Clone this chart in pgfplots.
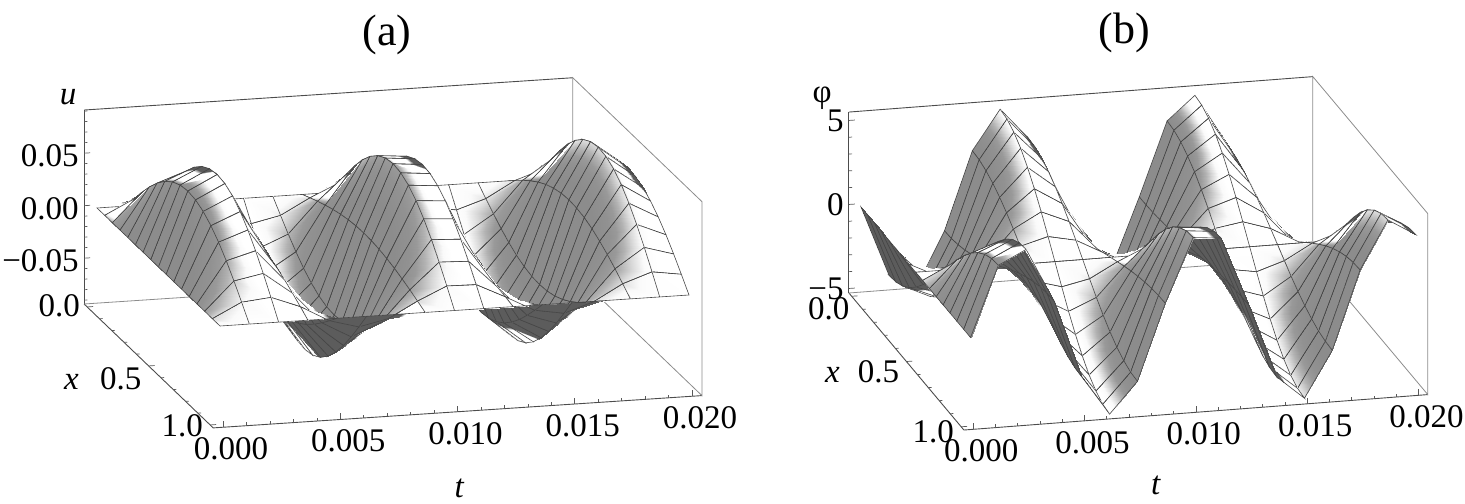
\documentclass[border=0pt]{standalone}
\usepackage{fontspec}
\setmainfont{Liberation Serif}
\usepackage{pgfplots}
\pgfplotsset{compat=1.18}
\newcommand{\tf}{\fontsize{16.5}{18}\selectfont}
\newcommand{\rb}[2]{\raisebox{#1}[10pt][0pt]{#2}}
\pgfplotsset{
  colormap={sheet}{gray=(.36) gray=(.36) gray=(.36) gray=(.36) gray=(.36) gray=(.36) gray=(.6) gray=(.8) gray=(1) gray=(1) gray=(1) gray=(1) gray=(1) gray=(1) gray=(1) gray=(1) gray=(1) gray=(1) gray=(1) gray=(1) gray=(1) gray=(.98) gray=(.85) gray=(.7) gray=(.6) gray=(.57) gray=(.56) gray=(.55) gray=(.55) gray=(.55) gray=(.55)},
  panel/.style={
    clip=false, disabledatascaling, colormap name=sheet, point meta min=-2, point meta max=1,
    xmin=-0.021, xmax=1.021, ymin=-0.025, ymax=1.025,
    xtick={0,0.25,0.5,0.75,1}, xticklabels={0.000,0.005,0.010,0.015,0.020},
    ytick={0,0.5,1},
    tick pos=left,
    major tick length=0pt, minor tick length=0pt,
    axis line style={draw=none},
    tick label style={font=\tf, inner sep=0pt},
    label style={font=\tf},
    title style={font=\fontsize{22}{24}\selectfont, anchor=center},
    scaled z ticks=false,
    zticklabel style={anchor=east, xshift=-2.5pt, yshift=-1.5pt},
    xticklabel style={anchor=north, xshift=4pt, yshift=-5pt},
    yticklabel style={anchor=center, xshift=-14pt, yshift=-3pt},
  }
}
\tikzset{tk/.style={black!65, line width=0.35pt}}
% #1 zmin, #2 zmax, #3 major z ticks, #4 minor z ticks
\newcommand{\boxedges}[4]{%
  \draw[black!70, line width=0.45pt] (axis cs:-0.021,-0.025,#2) -- (axis cs:1.021,-0.025,#2);
  \draw[black!70, line width=0.45pt] (axis cs:-0.021,-0.025,#1) -- (axis cs:-0.021,-0.025,#2);
  \draw[black!70, line width=0.45pt] (axis cs:-0.021,-0.025,#1) -- (axis cs:-0.021,1.025,#1) -- (axis cs:1.021,1.025,#1);
  \draw[black!45, line width=0.4pt] (axis cs:1.021,-0.025,#1) -- (axis cs:1.021,-0.025,#2) -- (axis cs:1.021,1.025,#2) -- (axis cs:1.021,1.025,#1) -- (axis cs:1.021,-0.025,#1) -- (axis cs:-0.021,-0.025,#1);
  \pgfplotsinvokeforeach{0,0.25,0.5,0.75,1}{\draw[tk] (axis cs:##1,1.025,#1) -- ++(0pt,3pt);}
  \pgfplotsinvokeforeach{0.05,0.1,0.15,0.2,0.3,0.35,0.4,0.45,0.55,0.6,0.65,0.7,0.8,0.85,0.9,0.95}{\draw[tk] (axis cs:##1,1.025,#1) -- ++(0pt,1.6pt);}
  \pgfplotsinvokeforeach{0,0.5,1}{\draw[tk] (axis cs:-0.021,##1,#1) -- ++(3pt,0.2pt);}
  \pgfplotsinvokeforeach{0.1,0.2,0.3,0.4,0.6,0.7,0.8,0.9}{\draw[tk] (axis cs:-0.021,##1,#1) -- ++(1.6pt,0.1pt);}
  \pgfplotsinvokeforeach{#3}{\draw[tk] (axis cs:-0.021,-0.025,##1) -- ++(3pt,0.2pt);}
  \pgfplotsinvokeforeach{#4}{\draw[tk] (axis cs:-0.021,-0.025,##1) -- ++(1.6pt,0.1pt);}
}
\begin{document}
\begin{tikzpicture}
\path[use as bounding box] (0,0) rectangle (732.5pt,251.5pt);
\begin{axis}[panel, at={(48.5pt,147.5pt)}, anchor=origin,
  x={(234.5pt,15.5pt)}, y={(61.5pt,-59pt)}, z={(0pt,234.7pt)},
  zmin=-0.2094, zmax=0.2038,
  ztick={-0.11185,0,0.11185}, zticklabels={\kern-1pt−0.05,0.00,0.05},
  yticklabels={\rb{3pt}{0.0},\rb{-4pt}{0.5},\rb{2pt}{1.0}},
  title={(a)}, title style={at={(rel axis cs:0.62,0,1.224)}},
  xlabel={\itshape t}, ylabel={\itshape x}, zlabel={\itshape u},
  every axis x label/.append style={at={(rel axis cs:0.35,1.58,0)},anchor=center},
  every axis y label/.append style={at={(rel axis cs:-0.18,0.583,0)},anchor=center,rotate=0},
  every axis z label/.append style={at={(rel axis cs:-0.0327,0,1.07)},anchor=center,rotate=-90},
]
\boxedges{-0.2094}{0.2038}{-0.11185,0,0.11185}{-0.2013,-0.179,-0.1566,-0.1342,-0.0895,-0.0671,-0.0447,-0.0224,0.0224,0.0447,0.0671,0.0895,0.1342,0.1566,0.179,0.2013}
\addplot3[surf, shader=faceted interp, faceted color=black!72, line width=0.3pt, z buffer=reverse y seq, mesh/rows=17, mesh/cols=17,
  point meta={ifthenelse(0.12+0.345*cos(deg(0.7436*\thisrow{t}))*sin(180*\thisrow{x})-0.276*sin(deg(0.7436*\thisrow{t}))*cos(180*\thisrow{x})<0,-2,cos(deg(0.7436*\thisrow{t}))*sin(180*\thisrow{x}))}]
table[x expr=\thisrow{t}/20,y=x,z expr=\thisrow{u}*2.237]{
t x u
0 0 0
0 .0625 0
0 .125 0
0 .1875 0
0 .25 0
0 .3125 0
0 .375 0
0 .4375 0
0 .5 0
0 .5625 0
0 .625 0
0 .6875 0
0 .75 0
0 .8125 0
0 .875 0
0 .9375 0
0 1 0
1.25 0 0
1.25 .0625 .0138
1.25 .125 .0270
1.25 .1875 .0392
1.25 .25 .0499
1.25 .3125 .0586
1.25 .375 .0651
1.25 .4375 .0691
1.25 .5 .0705
1.25 .5625 .0691
1.25 .625 .0651
1.25 .6875 .0586
1.25 .75 .0499
1.25 .8125 .0392
1.25 .875 .0270
1.25 .9375 .0138
1.25 1 0
2.5 0 0
2.5 .0625 .0165
2.5 .125 .0323
2.5 .1875 .0469
2.5 .25 .0597
2.5 .3125 .0702
2.5 .375 .0780
2.5 .4375 .0828
2.5 .5 .0844
2.5 .5625 .0828
2.5 .625 .0780
2.5 .6875 .0702
2.5 .75 .0597
2.5 .8125 .0469
2.5 .875 .0323
2.5 .9375 .0165
2.5 1 0
3.75 0 0
3.75 .0625 .0059
3.75 .125 .0116
3.75 .1875 .0169
3.75 .25 .0215
3.75 .3125 .0253
3.75 .375 .0281
3.75 .4375 .0298
3.75 .5 .0304
3.75 .5625 .0298
3.75 .625 .0281
3.75 .6875 .0253
3.75 .75 .0215
3.75 .8125 .0169
3.75 .875 .0116
3.75 .9375 .0059
3.75 1 0
5 0 0
5 .0625 -.0094
5 .125 -.0184
5 .1875 -.0267
5 .25 -.0339
5 .3125 -.0399
5 .375 -.0443
5 .4375 -.0471
5 .5 -.0480
5 .5625 -.0471
5 .625 -.0443
5 .6875 -.0399
5 .75 -.0339
5 .8125 -.0267
5 .875 -.0184
5 .9375 -.0094
5 1 0
6.25 0 0
6.25 .0625 -.0171
6.25 .125 -.0336
6.25 .1875 -.0488
6.25 .25 -.0621
6.25 .3125 -.0730
6.25 .375 -.0811
6.25 .4375 -.0861
6.25 .5 -.0878
6.25 .5625 -.0861
6.25 .625 -.0811
6.25 .6875 -.0730
6.25 .75 -.0621
6.25 .8125 -.0488
6.25 .875 -.0336
6.25 .9375 -.0171
6.25 1 0
7.5 0 0
7.5 .0625 -.0111
7.5 .125 -.0219
7.5 .1875 -.0317
7.5 .25 -.0404
7.5 .3125 -.0475
7.5 .375 -.0528
7.5 .4375 -.0560
7.5 .5 -.0571
7.5 .5625 -.0560
7.5 .625 -.0528
7.5 .6875 -.0475
7.5 .75 -.0404
7.5 .8125 -.0317
7.5 .875 -.0219
7.5 .9375 -.0111
7.5 1 0
8.75 0 0
8.75 .0625 .0038
8.75 .125 .0075
8.75 .1875 .0108
8.75 .25 .0138
8.75 .3125 .0162
8.75 .375 .0180
8.75 .4375 .0191
8.75 .5 .0195
8.75 .5625 .0191
8.75 .625 .0180
8.75 .6875 .0162
8.75 .75 .0138
8.75 .8125 .0108
8.75 .875 .0075
8.75 .9375 .0038
8.75 1 0
10 0 0
10 .0625 .0163
10 .125 .0320
10 .1875 .0464
10 .25 .0591
10 .3125 .0695
10 .375 .0772
10 .4375 .0820
10 .5 .0836
10 .5625 .0820
10 .625 .0772
10 .6875 .0695
10 .75 .0591
10 .8125 .0464
10 .875 .0320
10 .9375 .0163
10 1 0
11.25 0 0
11.25 .0625 .0158
11.25 .125 .0310
11.25 .1875 .0450
11.25 .25 .0573
11.25 .3125 .0674
11.25 .375 .0748
11.25 .4375 .0794
11.25 .5 .0810
11.25 .5625 .0794
11.25 .625 .0748
11.25 .6875 .0674
11.25 .75 .0573
11.25 .8125 .0450
11.25 .875 .0310
11.25 .9375 .0158
11.25 1 0
12.5 0 0
12.5 .0625 .0022
12.5 .125 .0043
12.5 .1875 .0063
12.5 .25 .0080
12.5 .3125 .0094
12.5 .375 .0104
12.5 .4375 .0111
12.5 .5 .0113
12.5 .5625 .0111
12.5 .625 .0104
12.5 .6875 .0094
12.5 .75 .0080
12.5 .8125 .0063
12.5 .875 .0043
12.5 .9375 .0022
12.5 1 0
13.75 0 0
13.75 .0625 -.0123
13.75 .125 -.0241
13.75 .1875 -.0351
13.75 .25 -.0446
13.75 .3125 -.0525
13.75 .375 -.0583
13.75 .4375 -.0619
13.75 .5 -.0631
13.75 .5625 -.0619
13.75 .625 -.0583
13.75 .6875 -.0525
13.75 .75 -.0446
13.75 .8125 -.0351
13.75 .875 -.0241
13.75 .9375 -.0123
13.75 1 0
15 0 0
15 .0625 -.0170
15 .125 -.0333
15 .1875 -.0483
15 .25 -.0614
15 .3125 -.0723
15 .375 -.0803
15 .4375 -.0852
15 .5 -.0869
15 .5625 -.0852
15 .625 -.0803
15 .6875 -.0723
15 .75 -.0614
15 .8125 -.0483
15 .875 -.0333
15 .9375 -.0170
15 1 0
16.25 0 0
16.25 .0625 -.0080
16.25 .125 -.0156
16.25 .1875 -.0227
16.25 .25 -.0288
16.25 .3125 -.0339
16.25 .375 -.0377
16.25 .4375 -.0400
16.25 .5 -.0408
16.25 .5625 -.0400
16.25 .625 -.0377
16.25 .6875 -.0339
16.25 .75 -.0288
16.25 .8125 -.0227
16.25 .875 -.0156
16.25 .9375 -.0080
16.25 1 0
17.5 0 0
17.5 .0625 .0074
17.5 .125 .0146
17.5 .1875 .0212
17.5 .25 .0269
17.5 .3125 .0317
17.5 .375 .0352
17.5 .4375 .0374
17.5 .5 .0381
17.5 .5625 .0374
17.5 .625 .0352
17.5 .6875 .0317
17.5 .75 .0269
17.5 .8125 .0212
17.5 .875 .0146
17.5 .9375 .0074
17.5 1 0
18.75 0 0
18.75 .0625 .0169
18.75 .125 .0331
18.75 .1875 .0480
18.75 .25 .0611
18.75 .3125 .0718
18.75 .375 .0798
18.75 .4375 .0847
18.75 .5 .0864
18.75 .5625 .0847
18.75 .625 .0798
18.75 .6875 .0718
18.75 .75 .0611
18.75 .8125 .0480
18.75 .875 .0331
18.75 .9375 .0169
18.75 1 0
20 0 0
20 .0625 .0127
20 .125 .0250
20 .1875 .0363
20 .25 .0462
20 .3125 .0543
20 .375 .0603
20 .4375 .0640
20 .5 .0653
20 .5625 .0640
20 .625 .0603
20 .6875 .0543
20 .75 .0462
20 .8125 .0363
20 .875 .0250
20 .9375 .0127
20 1 0
};
\end{axis}
\begin{axis}[panel, at={(430.5pt,148pt)}, anchor=origin,
  x={(222.6pt,17pt)}, y={(54.75pt,-65.25pt)}, z={(0pt,218.75pt)},
  zmin=-0.2024, zmax=0.2112,
  ztick={-0.192,0,0.192}, zticklabels={\kern-1pt−5,0,5},
  zticklabel style={yshift=1.5pt},
  yticklabels={\rb{-3.5pt}{\hspace*{5pt}0.0},\rb{-2.5pt}{0.5},\rb{0pt}{1.0}},
  title={(b)}, title style={at={(rel axis cs:0.593,0,1.253)}},
  xlabel={\itshape t}, ylabel={\itshape x}, zlabel={φ},
  every axis x label/.append style={at={(rel axis cs:0.295,1.478,0)},anchor=center},
  every axis y label/.append style={at={(rel axis cs:-0.173,0.555,0)},anchor=center,rotate=0},
  every axis z label/.append style={at={(rel axis cs:-0.058,0,1.088)},anchor=center,rotate=-90},
]
\boxedges{-0.2024}{0.2112}{-0.192,0,0.192}{-0.1536,-0.1152,-0.0768,-0.0384,0.0384,0.0768,0.1152,0.1536}
\addplot3[surf, shader=faceted interp, faceted color=black!72, line width=0.3pt, z buffer=reverse y seq, mesh/rows=17, mesh/cols=17,
  point meta={ifthenelse(8.27-19*cos(deg(0.7436*\thisrow{t}))*cos(180*\thisrow{x})-16.3*sin(deg(0.7436*\thisrow{t}))*sin(180*\thisrow{x})<0,-2,-cos(deg(0.7436*\thisrow{t}))*cos(180*\thisrow{x}))}]
table[x expr=\thisrow{t}/20,y=x,z expr=\thisrow{p}*0.0384]{
t x p
0 0 0
0 .0625 0
0 .125 0
0 .1875 0
0 .25 0
0 .3125 0
0 .375 0
0 .4375 0
0 .5 0
0 .5625 0
0 .625 0
0 .6875 0
0 .75 0
0 .8125 0
0 .875 0
0 .9375 0
0 1 0
1.25 0 -4.17
1.25 .0625 -4.09
1.25 .125 -3.85
1.25 .1875 -3.47
1.25 .25 -2.95
1.25 .3125 -2.32
1.25 .375 -1.60
1.25 .4375 -.81
1.25 .5 0
1.25 .5625 .81
1.25 .625 1.60
1.25 .6875 2.32
1.25 .75 2.95
1.25 .8125 3.47
1.25 .875 3.85
1.25 .9375 4.09
1.25 1 4.17
2.5 0 -4.99
2.5 .0625 -4.89
2.5 .125 -4.61
2.5 .1875 -4.15
2.5 .25 -3.53
2.5 .3125 -2.77
2.5 .375 -1.91
2.5 .4375 -.97
2.5 .5 0
2.5 .5625 .97
2.5 .625 1.91
2.5 .6875 2.77
2.5 .75 3.53
2.5 .8125 4.15
2.5 .875 4.61
2.5 .9375 4.89
2.5 1 4.99
3.75 0 -1.80
3.75 .0625 -1.77
3.75 .125 -1.66
3.75 .1875 -1.50
3.75 .25 -1.27
3.75 .3125 -1.00
3.75 .375 -.69
3.75 .4375 -.35
3.75 .5 0
3.75 .5625 .35
3.75 .625 .69
3.75 .6875 1.00
3.75 .75 1.27
3.75 .8125 1.50
3.75 .875 1.66
3.75 .9375 1.77
3.75 1 1.80
5 0 2.84
5 .0625 2.79
5 .125 2.62
5 .1875 2.36
5 .25 2.01
5 .3125 1.58
5 .375 1.09
5 .4375 .55
5 .5 0
5 .5625 -.55
5 .625 -1.09
5 .6875 -1.58
5 .75 -2.01
5 .8125 -2.36
5 .875 -2.62
5 .9375 -2.79
5 1 -2.84
6.25 0 5.19
6.25 .0625 5.09
6.25 .125 4.79
6.25 .1875 4.32
6.25 .25 3.67
6.25 .3125 2.88
6.25 .375 1.99
6.25 .4375 1.01
6.25 .5 0
6.25 .5625 -1.01
6.25 .625 -1.99
6.25 .6875 -2.88
6.25 .75 -3.67
6.25 .8125 -4.32
6.25 .875 -4.79
6.25 .9375 -5.09
6.25 1 -5.19
7.5 0 3.37
7.5 .0625 3.31
7.5 .125 3.11
7.5 .1875 2.80
7.5 .25 2.38
7.5 .3125 1.87
7.5 .375 1.29
7.5 .4375 .66
7.5 .5 0
7.5 .5625 -.66
7.5 .625 -1.29
7.5 .6875 -1.87
7.5 .75 -2.38
7.5 .8125 -2.80
7.5 .875 -3.11
7.5 .9375 -3.31
7.5 1 -3.37
8.75 0 -1.15
8.75 .0625 -1.13
8.75 .125 -1.06
8.75 .1875 -.96
8.75 .25 -.81
8.75 .3125 -.64
8.75 .375 -.44
8.75 .4375 -.22
8.75 .5 0
8.75 .5625 .22
8.75 .625 .44
8.75 .6875 .64
8.75 .75 .81
8.75 .8125 .96
8.75 .875 1.06
8.75 .9375 1.13
8.75 1 1.15
10 0 -4.94
10 .0625 -4.85
10 .125 -4.56
10 .1875 -4.11
10 .25 -3.49
10 .3125 -2.74
10 .375 -1.89
10 .4375 -.96
10 .5 0
10 .5625 .96
10 .625 1.89
10 .6875 2.74
10 .75 3.49
10 .8125 4.11
10 .875 4.56
10 .9375 4.85
10 1 4.94
11.25 0 -4.78
11.25 .0625 -4.69
11.25 .125 -4.42
11.25 .1875 -3.97
11.25 .25 -3.38
11.25 .3125 -2.66
11.25 .375 -1.83
11.25 .4375 -.93
11.25 .5 0
11.25 .5625 .93
11.25 .625 1.83
11.25 .6875 2.66
11.25 .75 3.38
11.25 .8125 3.97
11.25 .875 4.42
11.25 .9375 4.69
11.25 1 4.78
12.5 0 -.67
12.5 .0625 -.66
12.5 .125 -.62
12.5 .1875 -.56
12.5 .25 -.47
12.5 .3125 -.37
12.5 .375 -.26
12.5 .4375 -.13
12.5 .5 0
12.5 .5625 .13
12.5 .625 .26
12.5 .6875 .37
12.5 .75 .47
12.5 .8125 .56
12.5 .875 .62
12.5 .9375 .66
12.5 1 .67
13.75 0 3.73
13.75 .0625 3.66
13.75 .125 3.45
13.75 .1875 3.10
13.75 .25 2.64
13.75 .3125 2.07
13.75 .375 1.43
13.75 .4375 .73
13.75 .5 0
13.75 .5625 -.73
13.75 .625 -1.43
13.75 .6875 -2.07
13.75 .75 -2.64
13.75 .8125 -3.10
13.75 .875 -3.45
13.75 .9375 -3.66
13.75 1 -3.73
15 0 5.13
15 .0625 5.03
15 .125 4.74
15 .1875 4.27
15 .25 3.63
15 .3125 2.85
15 .375 1.96
15 .4375 1.00
15 .5 0
15 .5625 -1.00
15 .625 -1.96
15 .6875 -2.85
15 .75 -3.63
15 .8125 -4.27
15 .875 -4.74
15 .9375 -5.03
15 1 -5.13
16.25 0 2.41
16.25 .0625 2.36
16.25 .125 2.23
16.25 .1875 2.00
16.25 .25 1.70
16.25 .3125 1.34
16.25 .375 .92
16.25 .4375 .47
16.25 .5 0
16.25 .5625 -.47
16.25 .625 -.92
16.25 .6875 -1.34
16.25 .75 -1.70
16.25 .8125 -2.00
16.25 .875 -2.23
16.25 .9375 -2.36
16.25 1 -2.41
17.5 0 -2.25
17.5 .0625 -2.21
17.5 .125 -2.08
17.5 .1875 -1.87
17.5 .25 -1.59
17.5 .3125 -1.25
17.5 .375 -.86
17.5 .4375 -.44
17.5 .5 0
17.5 .5625 .44
17.5 .625 .86
17.5 .6875 1.25
17.5 .75 1.59
17.5 .8125 1.87
17.5 .875 2.08
17.5 .9375 2.21
17.5 1 2.25
18.75 0 -5.10
18.75 .0625 -5.00
18.75 .125 -4.71
18.75 .1875 -4.24
18.75 .25 -3.61
18.75 .3125 -2.83
18.75 .375 -1.95
18.75 .4375 -.99
18.75 .5 0
18.75 .5625 .99
18.75 .625 1.95
18.75 .6875 2.83
18.75 .75 3.61
18.75 .8125 4.24
18.75 .875 4.71
18.75 .9375 5.00
18.75 1 5.10
20 0 -4.10
20 .0625 -4.02
20 .125 -3.79
20 .1875 -3.41
20 .25 -2.90
20 .3125 -2.28
20 .375 -1.57
20 .4375 -.80
20 .5 0
20 .5625 .80
20 .625 1.57
20 .6875 2.28
20 .75 2.90
20 .8125 3.41
20 .875 3.79
20 .9375 4.02
20 1 4.10
};
\end{axis}
\end{tikzpicture}
\end{document}
